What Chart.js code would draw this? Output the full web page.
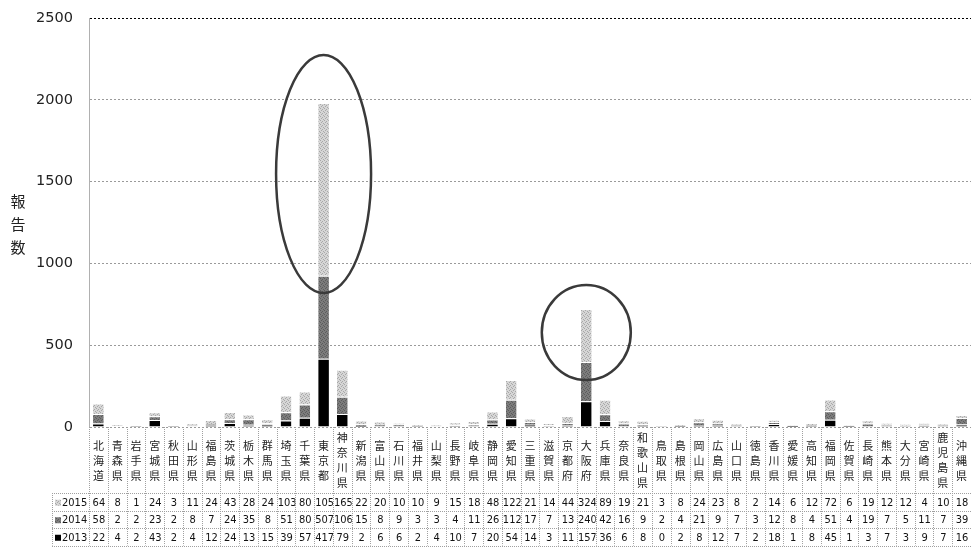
<!DOCTYPE html>
<html lang="ja">
<head>
<meta charset="utf-8">
<title>都道府県別 報告数</title>
<script src="https://cdn.jsdelivr.net/npm/chart.js@4.4.0/dist/chart.umd.min.js"></script>
<style>
  html, body { margin: 0; padding: 0; background: #fff; }
  #wrap { width: 971px; height: 551px; }
</style>
</head>
<body>
<div id="wrap"><canvas id="reportChart"></canvas></div>
<script>
// 都道府県別・年別の報告数
const prefectures = [
  '北海道', '青森県', '岩手県', '宮城県', '秋田県', '山形県', '福島県', '茨城県', '栃木県', '群馬県',
  '埼玉県', '千葉県', '東京都', '神奈川県', '新潟県', '富山県', '石川県', '福井県', '山梨県', '長野県',
  '岐阜県', '静岡県', '愛知県', '三重県', '滋賀県', '京都府', '大阪府', '兵庫県', '奈良県', '和歌山県',
  '鳥取県', '島根県', '岡山県', '広島県', '山口県', '徳島県', '香川県', '愛媛県', '高知県', '福岡県',
  '佐賀県', '長崎県', '熊本県', '大分県', '宮崎県', '鹿児島県', '沖縄県'
];
const counts2013 = [
  22, 4, 2, 43, 2, 4, 12, 24, 13, 15,
  39, 57, 417, 79, 2, 6, 6, 2, 4, 10,
  7, 20, 54, 14, 3, 11, 157, 36, 6, 8,
  0, 2, 8, 12, 7, 2, 18, 1, 8, 45,
  1, 3, 7, 3, 9, 7, 16
];
const counts2014 = [
  58, 2, 2, 23, 2, 8, 7, 24, 35, 8,
  51, 80, 507, 106, 15, 8, 9, 3, 3, 4,
  11, 26, 112, 17, 7, 13, 240, 42, 16, 9,
  2, 4, 21, 9, 7, 3, 12, 8, 4, 51,
  4, 19, 7, 5, 11, 7, 39
];
const counts2015 = [
  64, 8, 1, 24, 3, 11, 24, 43, 28, 24,
  103, 80, 1056, 165, 22, 20, 10, 10, 9, 15,
  18, 48, 122, 21, 14, 44, 324, 89, 19, 21,
  3, 8, 24, 23, 8, 2, 14, 6, 12, 72,
  6, 19, 12, 12, 4, 10, 18
];
const yTicks = [0, 500, 1000, 1500, 2000, 2500];
const yTitle = ['報', '告', '数'];

// 注目する都道府県を囲む楕円（値の範囲で指定）
const highlights = [
  { pref: '東京都', from: 819, to: 2274, halfWidth: 47.5 },
  { pref: '大阪府', from: 287, to: 868, halfWidth: 44.5 }
];

const canvas = document.getElementById('reportChart');
const ctx = canvas.getContext('2d');

// 網掛け風の塗り
function speckle(base, dot, cells) {
  const c = document.createElement('canvas');
  c.width = 4; c.height = 4;
  const g = c.getContext('2d');
  g.fillStyle = base;
  g.fillRect(0, 0, 4, 4);
  g.fillStyle = dot;
  cells.forEach(([px, py]) => g.fillRect(px, py, 1, 1));
  return ctx.createPattern(c, 'repeat');
}
const fill2015 = speckle('#d6d6d6', '#a8a8a8', [[0, 0], [2, 1], [1, 2], [3, 3]]);
const fill2014 = speckle('#7c7c7c', '#5c5c5c', [[1, 0], [3, 1], [0, 2], [2, 3]]);
const fill2013 = '#000';

const NUM_FONT = '11px "DejaVu Sans Condensed", "DejaVu Sans", sans-serif';

// 下部のデータテーブル・縦の区切り線・軸タイトル
const dataTable = {
  id: 'dataTable',
  afterDraw(chart) {
    const { ctx, scales: { x, y } } = chart;
    const n = prefectures.length;
    const colW = (x.right - x.left) / n;
    const top = x.bottom;
    const rowH = 17.5;
    const tableLeft = 52;
    const rows = [
      { label: '2015', values: counts2015, fill: fill2015 },
      { label: '2014', values: counts2014, fill: fill2014 },
      { label: '2013', values: counts2013, fill: fill2013 }
    ];
    const bottom = top + rows.length * rowH;

    ctx.save();
    ctx.strokeStyle = '#a0a0a0';
    ctx.lineWidth = 1;
    ctx.setLineDash([1, 1]);
    const line = (x1, y1, x2, y2) => {
      ctx.beginPath(); ctx.moveTo(x1, y1); ctx.lineTo(x2, y2); ctx.stroke();
    };
    for (let i = 0; i <= n; i++) {
      const px = Math.round(x.left + i * colW) + 0.5;
      line(px, x.top, px, bottom);
    }
    for (let r = 0; r <= rows.length; r++) {
      const py = Math.round(top + r * rowH) + 0.5;
      line(tableLeft, py, x.right, py);
    }
    line(tableLeft + 0.5, top, tableLeft + 0.5, bottom);
    ctx.setLineDash([]);

    ctx.textBaseline = 'middle';
    rows.forEach((row, r) => {
      const cy = top + r * rowH + rowH / 2 + 1;
      ctx.fillStyle = row.fill;
      ctx.fillRect(tableLeft + 3, cy - 3, 6, 6);
      ctx.fillStyle = '#111';
      ctx.font = NUM_FONT;
      ctx.textAlign = 'left';
      ctx.fillText(row.label, tableLeft + 10, cy);

      row.values.forEach((v, i) => {
        const cx0 = x.left + i * colW;
        const txt = String(v);
        const w = ctx.measureText(txt).width;
        ctx.save();
        ctx.beginPath();
        ctx.rect(cx0 + 1, top + r * rowH, colW - 1, rowH);
        ctx.clip();
        if (w > colW - 1) {
          ctx.textAlign = 'left';
          ctx.fillText(txt, cx0 + 1, cy);
        } else {
          ctx.textAlign = 'center';
          ctx.fillText(txt, cx0 + colW / 2 + 0.5, cy);
        }
        ctx.restore();
      });
    });

    // 縦書きの軸タイトル
    ctx.font = '15px "Noto Sans CJK JP", sans-serif';
    ctx.textAlign = 'center';
    ctx.fillStyle = '#222';
    const midY = (y.top + y.bottom) / 2 + 2;
    yTitle.forEach((ch, k) => {
      ctx.fillText(ch, 18, midY + (k - 1) * 23);
    });
    ctx.restore();
  }
};

const circles = {
  id: 'circles',
  afterDatasetsDraw(chart) {
    const { ctx, scales: { x, y } } = chart;
    ctx.save();
    ctx.strokeStyle = '#3a3a3a';
    ctx.lineWidth = 2.5;
    highlights.forEach(h => {
      const cx = x.getPixelForValue(prefectures.indexOf(h.pref));
      const yTop = y.getPixelForValue(h.to);
      const yBot = y.getPixelForValue(h.from);
      ctx.beginPath();
      ctx.ellipse(cx, (yTop + yBot) / 2, h.halfWidth, (yBot - yTop) / 2, 0, 0, Math.PI * 2);
      ctx.stroke();
    });
    ctx.restore();
  }
};

const barStyle = {
  barPercentage: 0.57,
  categoryPercentage: 1,
  borderColor: '#fff',
  borderWidth: { top: 1, left: 0, right: 0, bottom: 0 },
  borderSkipped: 'start'
};

new Chart(ctx, {
  type: 'bar',
  data: {
    labels: prefectures.map(name => Array.from(name)),
    datasets: [
      { label: '2013', data: counts2013, backgroundColor: fill2013, ...barStyle },
      { label: '2014', data: counts2014, backgroundColor: fill2014, ...barStyle },
      { label: '2015', data: counts2015, backgroundColor: fill2015, ...barStyle }
    ]
  },
  options: {
    responsive: true,
    maintainAspectRatio: false,
    animation: false,
    devicePixelRatio: 1,
    layout: { padding: { top: 18, right: 0, bottom: 58, left: 0 } },
    plugins: {
      legend: { display: false },
      tooltip: { enabled: false }
    },
    scales: {
      x: {
        stacked: true,
        grid: { display: false },
        border: { display: false },
        ticks: {
          autoSkip: false,
          maxRotation: 0,
          minRotation: 0,
          padding: 3,
          crossAlign: 'center',
          color: '#222',
          font: { family: '"Noto Sans CJK JP", sans-serif', size: 11, lineHeight: 15 / 11 }
        },
        afterFit(scale) { scale.height = 66; }
      },
      y: {
        stacked: true,
        min: 0,
        max: 2500,
        afterBuildTicks(scale) { scale.ticks = yTicks.map(v => ({ value: v })); },
        grid: {
          color: c => (c.tick && c.tick.value === 2500 ? '#000' : '#9a9a9a'),
          drawTicks: false,
          lineWidth: 1
        },
        border: { display: true, color: '#b0b0b0', dash: [2, 2] },
        ticks: {
          padding: 16,
          color: '#222',
          font: { family: '"DejaVu Sans", sans-serif', size: 14.5 },
          callback: v => String(v)
        },
        afterFit(scale) {
          scale.width = 89;
          scale.paddingTop = 9;
          scale.paddingBottom = 9;
        }
      }
    }
  },
  plugins: [circles, dataTable]
});
</script>
</body>
</html>
